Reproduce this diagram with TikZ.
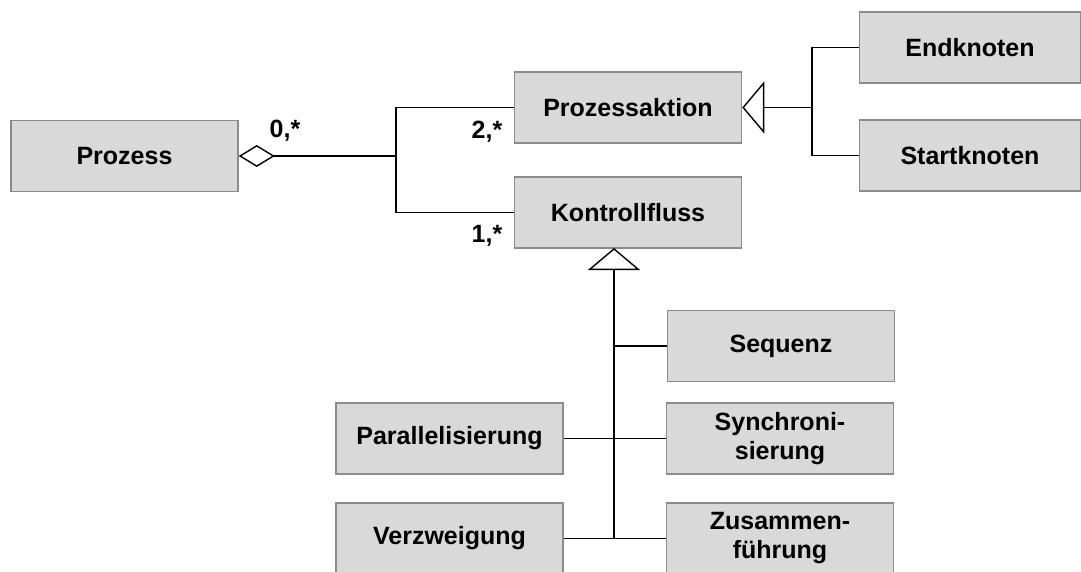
\documentclass[tikz,border=0pt]{standalone}
\usepackage{fontspec}
\setmainfont{Liberation Sans}
\usetikzlibrary{arrows.meta}
\definecolor{boxfill}{HTML}{D9D9D9}
\definecolor{boxline}{HTML}{8C8C8C}
\begin{document}
\begin{tikzpicture}[x=1pt,y=-1pt,
  font=\fontsize{25}{29}\selectfont\bfseries,
  cls/.style={draw=boxline, line width=1.5pt, fill=boxfill, align=center,
    minimum width=227pt, minimum height=71pt, inner sep=0pt},
  wide/.style={cls, minimum width=221pt},
  link/.style={line width=1.4pt, draw=black},
  agg/.style={link, -{Diamond[open, fill=white, length=36pt, width=22pt]}},
  gen/.style={link, -{Triangle[open, fill=white, length=22pt, width=52pt]}},
  mult/.style={inner sep=0pt}]
\useasboundingbox (0,0) rectangle (1081,572);

% classes
\node[cls] (prozess)  at (124.5,156) {Prozess};
\node[cls] (aktion)   at (628,107.5) {Prozessaktion};
\node[cls] (kontroll) at (628,212.5) {Kontrollfluss};
\node[wide] (end)     at (970,47.5)  {Endknoten};
\node[wide] (start)   at (970,155.5) {Startknoten};
\node[cls] (seq)      at (781,346)   {Sequenz};
\node[cls] (par)      at (449.5,438.5) {Parallelisierung};
\node[cls] (sync)     at (780,438.5) {Synchroni-\\sierung};
\node[cls] (verz)     at (449.5,538.5) {Verzweigung};
\node[cls] (zus)      at (780,538.5) {Zusammen-\\führung};

% aggregation: Prozess has actions and control flows
\coordinate (aj) at (396,156);
\draw[agg] (aj) -- (prozess.east);
\draw[link] (aktion.west) -| (aj) |- (kontroll.west);
\node[mult] at (285,131) {0,*};
\node[mult] at (487,132) {2,*};
\node[mult] at (487,236) {1,*};

% specialisations of Prozessaktion
\coordinate (gj) at (812,107.5);
\draw[gen] (gj) -- (aktion.east);
\draw[link] (end.west) -| (gj) |- (start.west);

% specialisations of Kontrollfluss
\coordinate (kt) at (614,248);
\coordinate (kb) at (614,538.5);
\draw[gen] (kb) -- (kt);
\draw[link] (614,346) -- (seq.west);
\draw[link] (par.east) -- (sync.west);
\draw[link] (verz.east) -- (zus.west);
\end{tikzpicture}
\end{document}
